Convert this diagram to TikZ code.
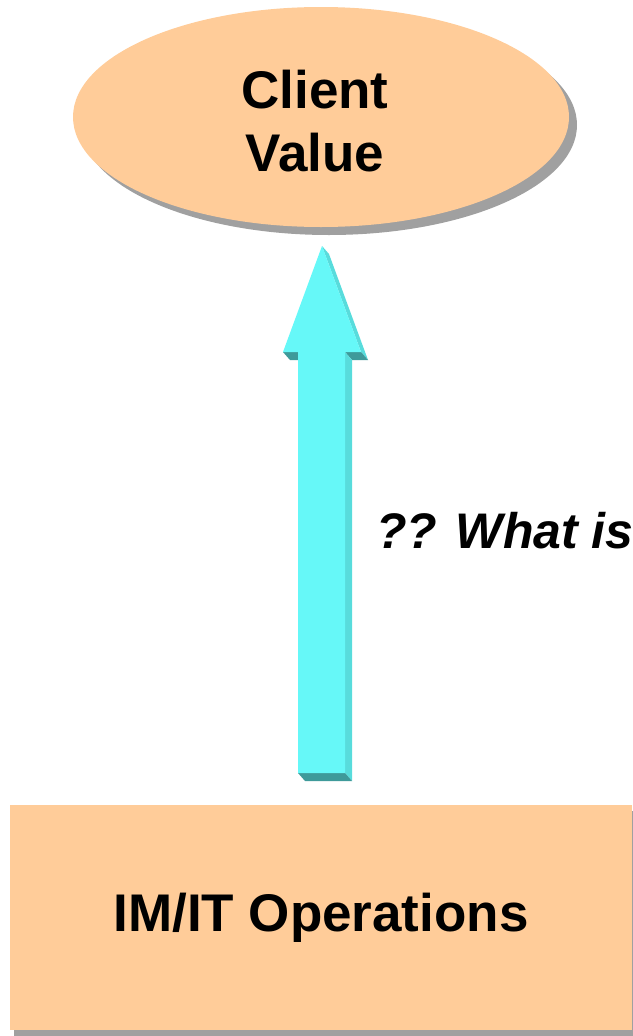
\documentclass[tikz,border=0pt]{standalone}
\usepackage{fontspec}
\setmainfont{Liberation Sans}
\usetikzlibrary{shapes.geometric,calc}

\definecolor{peach}{HTML}{FFCC99}
\definecolor{shadowgray}{HTML}{A0A0A0}
\definecolor{arrowfront}{HTML}{66F8F8}
\definecolor{arrowside}{HTML}{58DCDC}
\definecolor{arrowdark}{HTML}{3E9A9A}

\tikzset{
    bigtext/.style={font=\fontsize{53}{63}\selectfont\bfseries},
    peachbox/.style={fill=peach, draw=none, inner sep=0pt},
}

\begin{document}
\begin{tikzpicture}[x=1pt,y=-1pt]
    \useasboundingbox (0,0) rectangle (632,1036);

    % ellipse on top
    \fill[shadowgray] (329,125) ellipse (248 and 110);
    \node[peachbox, ellipse, minimum width=496pt, minimum height=220pt] (value) at (321,117) {};
    \node[bigtext, align=center] (valuetext) at (315,121) {Client\\Value};

    % box at the bottom
    \fill[shadowgray] (14,811) rectangle (640,1036);
    \node[peachbox, rectangle, minimum width=622pt, minimum height=225pt,
          anchor=north west] (ops) at (10,805) {};
    \node[bigtext] (opstext) at (321,918) {IM/IT Operations};

    % the arrow
    \coordinate (T) at (322,246);
    \coordinate (HL) at (283,352);
    \coordinate (HR) at (361,352);
    \coordinate (SLt) at (298,352);
    \coordinate (SRt) at (345,352);
    \coordinate (SLb) at (298,773);
    \coordinate (SRb) at (345,773);
    \coordinate (d) at (7,8);

    \fill[arrowside] (T) -- ($(T)+(d)$) -- ($(HR)+(d)$) -- (HR) -- cycle;
    \fill[arrowdark] (HR) -- ($(HR)+(d)$) -- ($(SRt)+(d)$) -- (SRt) -- cycle;
    \fill[arrowdark] (HL) -- ($(HL)+(d)$) -- ($(SLt)+(d)$) -- (SLt) -- cycle;
    \fill[arrowside] (SRt) -- ($(SRt)+(d)$) -- ($(SRb)+(d)$) -- (SRb) -- cycle;
    \fill[arrowdark] (SLb) -- ($(SLb)+(d)$) -- ($(SRb)+(d)$) -- (SRb) -- cycle;
    \fill[arrowfront] (T) -- (HL) -- (SLt) -- (SLb) -- (SRb) -- (SRt) -- (HR) -- cycle;

    \node[font=\fontsize{50}{60}\selectfont\bfseries\itshape, anchor=base west,
          inner sep=0pt] (question) at (376,548) {?? What is};
\end{tikzpicture}
\end{document}
